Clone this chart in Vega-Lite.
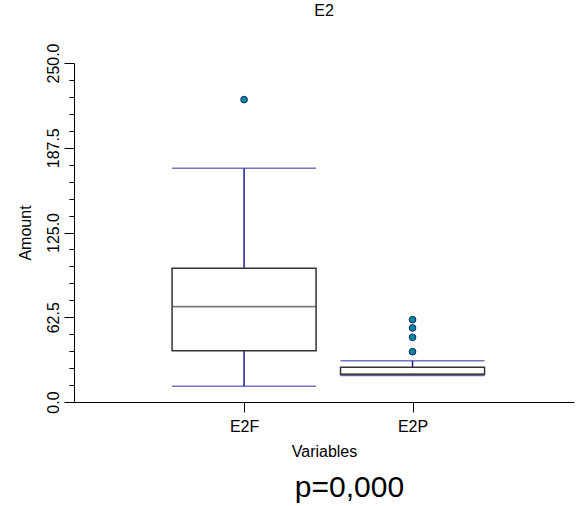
{
  "$schema": "https://vega.github.io/schema/vega-lite/v6.json",
  "padding": {"left": 17, "top": 2, "right": 1, "bottom": 0},
  "background": "white",
  "config": {
    "font": "Liberation Sans",
    "view": {"stroke": null},
    "axis": {"domainColor": "black", "tickColor": "black", "labelColor": "black", "titleColor": "black", "titleFontWeight": "normal", "grid": false},
    "axisX": {"labelFontSize": 16, "titleFontSize": 16, "tickSize": 10, "labelPadding": 6, "titlePadding": 9, "labelAngle": 0},
    "axisY": {"labelFontSize": 16, "titleFontSize": 16, "labelAngle": -90, "labelPadding": 3, "titlePadding": 12}
  },
  "datasets": {
    "boxes": [
      {"var": "E2F", "lower": 11.6, "q1": 37.8, "median": 70.3, "q3": 98.6, "upper": 172.3},
      {"var": "E2P", "lower": 19.6, "q1": 20.2, "median": 20.6, "q3": 25.6, "upper": 30.5}
    ],
    "outliers": [
      {"var": "E2F", "value": 223.0},
      {"var": "E2P", "value": 60.7},
      {"var": "E2P", "value": 54.6},
      {"var": "E2P", "value": 47.7},
      {"var": "E2P", "value": 37.1}
    ]
  },
  "title": {"text": "p=0,000", "orient": "bottom", "anchor": "middle", "fontSize": 30, "fontWeight": "normal", "offset": 14, "dx": 54},
  "vconcat": [
    {
      "width": 500,
      "height": 339,
      "title": {"text": "E2", "fontSize": 16, "fontWeight": "normal", "frame": "group", "offset": 24},
      "encoding": {
        "x": {
          "field": "var", "type": "nominal", "title": "Variables",
          "scale": {"type": "point", "domain": ["E2F", "E2P"], "padding": 0.984, "align": 0.513}
        }
      },
      "layer": [
        {
          "data": {"name": "boxes"},
          "mark": {"type": "rule", "color": "#1c1c8c", "strokeWidth": 1.5},
          "encoding": {
            "y": {
              "field": "lower", "type": "quantitative", "title": "Amount",
              "scale": {"domain": [0, 250], "nice": false},
              "axis": {
                "values": [0, 12.5, 25, 37.5, 50, 62.5, 75, 87.5, 100, 112.5, 125, 137.5, 150, 162.5, 175, 187.5, 200, 212.5, 225, 237.5, 250],
                "labelExpr": "datum.value % 62.5 === 0 ? format(datum.value, '.1f') : ''",
                "labelOverlap": false, "labelFlush": false,
                "tickSize": {"condition": {"test": "datum.value % 62.5 === 0", "value": 10}, "value": 5}
              }
            },
            "y2": {"field": "q1"}
          }
        },
        {
          "data": {"name": "boxes"},
          "mark": {"type": "rule", "color": "#1c1c8c", "strokeWidth": 1.5},
          "encoding": {
            "y": {
              "field": "q3", "type": "quantitative", "title": "Amount",
              "scale": {"domain": [0, 250], "nice": false},
              "axis": {
                "values": [0, 12.5, 25, 37.5, 50, 62.5, 75, 87.5, 100, 112.5, 125, 137.5, 150, 162.5, 175, 187.5, 200, 212.5, 225, 237.5, 250],
                "labelExpr": "datum.value % 62.5 === 0 ? format(datum.value, '.1f') : ''",
                "labelOverlap": false, "labelFlush": false,
                "tickSize": {"condition": {"test": "datum.value % 62.5 === 0", "value": 10}, "value": 5}
              }
            },
            "y2": {"field": "upper"}
          }
        },
        {
          "data": {"name": "boxes"},
          "mark": {"type": "tick", "color": "#3a3aa6", "size": 144, "thickness": 1.5, "orient": "horizontal"},
          "encoding": {"y": {
              "field": "upper", "type": "quantitative", "title": "Amount",
              "scale": {"domain": [0, 250], "nice": false},
              "axis": {
                "values": [0, 12.5, 25, 37.5, 50, 62.5, 75, 87.5, 100, 112.5, 125, 137.5, 150, 162.5, 175, 187.5, 200, 212.5, 225, 237.5, 250],
                "labelExpr": "datum.value % 62.5 === 0 ? format(datum.value, '.1f') : ''",
                "labelOverlap": false, "labelFlush": false,
                "tickSize": {"condition": {"test": "datum.value % 62.5 === 0", "value": 10}, "value": 5}
              }
          }}
        },
        {
          "data": {"name": "boxes"},
          "mark": {"type": "tick", "color": "#3a3aa6", "size": 144, "thickness": 1.5, "orient": "horizontal"},
          "encoding": {"y": {
              "field": "lower", "type": "quantitative", "title": "Amount",
              "scale": {"domain": [0, 250], "nice": false},
              "axis": {
                "values": [0, 12.5, 25, 37.5, 50, 62.5, 75, 87.5, 100, 112.5, 125, 137.5, 150, 162.5, 175, 187.5, 200, 212.5, 225, 237.5, 250],
                "labelExpr": "datum.value % 62.5 === 0 ? format(datum.value, '.1f') : ''",
                "labelOverlap": false, "labelFlush": false,
                "tickSize": {"condition": {"test": "datum.value % 62.5 === 0", "value": 10}, "value": 5}
              }
          }}
        },
        {
          "data": {"name": "boxes"},
          "mark": {"type": "bar", "width": 144, "fill": "white", "stroke": "#333333", "strokeWidth": 1.5},
          "encoding": {
            "y": {
              "field": "q1", "type": "quantitative", "title": "Amount",
              "scale": {"domain": [0, 250], "nice": false},
              "axis": {
                "values": [0, 12.5, 25, 37.5, 50, 62.5, 75, 87.5, 100, 112.5, 125, 137.5, 150, 162.5, 175, 187.5, 200, 212.5, 225, 237.5, 250],
                "labelExpr": "datum.value % 62.5 === 0 ? format(datum.value, '.1f') : ''",
                "labelOverlap": false, "labelFlush": false,
                "tickSize": {"condition": {"test": "datum.value % 62.5 === 0", "value": 10}, "value": 5}
              }
            },
            "y2": {"field": "q3"}
          }
        },
        {
          "data": {"name": "boxes"},
          "mark": {"type": "tick", "color": "#444444", "size": 144, "thickness": 1.8, "orient": "horizontal"},
          "encoding": {"y": {
              "field": "median", "type": "quantitative", "title": "Amount",
              "scale": {"domain": [0, 250], "nice": false},
              "axis": {
                "values": [0, 12.5, 25, 37.5, 50, 62.5, 75, 87.5, 100, 112.5, 125, 137.5, 150, 162.5, 175, 187.5, 200, 212.5, 225, 237.5, 250],
                "labelExpr": "datum.value % 62.5 === 0 ? format(datum.value, '.1f') : ''",
                "labelOverlap": false, "labelFlush": false,
                "tickSize": {"condition": {"test": "datum.value % 62.5 === 0", "value": 10}, "value": 5}
              }
          }}
        },
        {
          "data": {"name": "outliers"},
          "mark": {"type": "point", "filled": true, "fill": "#008b8b", "stroke": "#1c1c8c", "strokeWidth": 1, "size": 45, "opacity": 1},
          "encoding": {"y": {
              "field": "value", "type": "quantitative", "title": "Amount",
              "scale": {"domain": [0, 250], "nice": false},
              "axis": {
                "values": [0, 12.5, 25, 37.5, 50, 62.5, 75, 87.5, 100, 112.5, 125, 137.5, 150, 162.5, 175, 187.5, 200, 212.5, 225, 237.5, 250],
                "labelExpr": "datum.value % 62.5 === 0 ? format(datum.value, '.1f') : ''",
                "labelOverlap": false, "labelFlush": false,
                "tickSize": {"condition": {"test": "datum.value % 62.5 === 0", "value": 10}, "value": 5}
              }
          }}
        }
      ]
    }
  ]
}
